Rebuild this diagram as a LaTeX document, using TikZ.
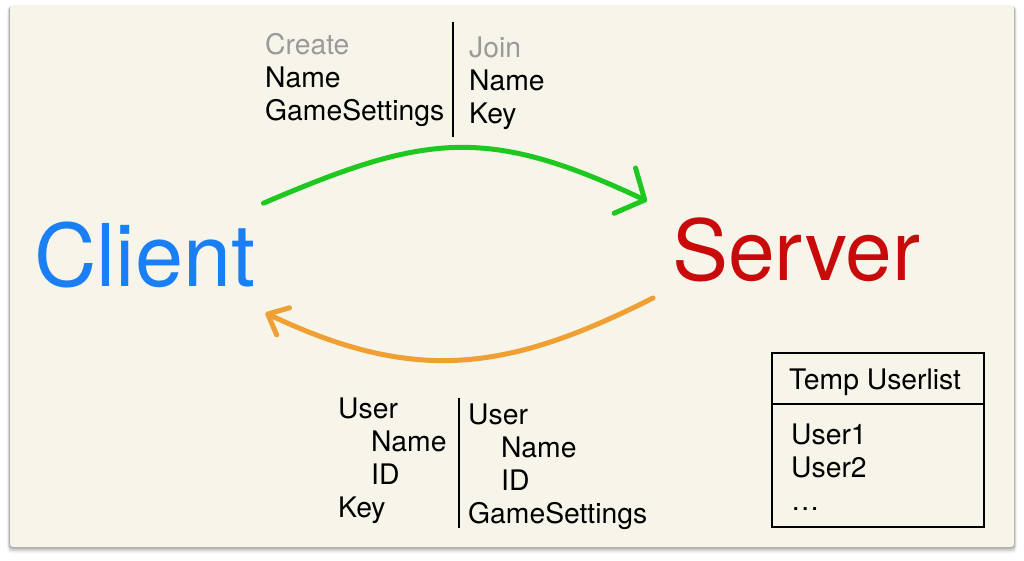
\documentclass[tikz,border=0pt]{standalone}
\usepackage{fontspec}
\setmainfont{TeX Gyre Heros}
\usepackage{tikz}
\usetikzlibrary{arrows.meta,positioning,calc}
\definecolor{slidebg}{HTML}{F7F4E9}
\definecolor{clientblue}{HTML}{1A7FF5}
\definecolor{serverred}{HTML}{C80A0A}
\definecolor{reqgreen}{HTML}{1EC81E}
\definecolor{resorange}{HTML}{F0A032}
\definecolor{hintgray}{HTML}{9A9A9A}

\begin{document}
\begin{tikzpicture}[x=1pt, y=-1pt,
  big/.style={inner sep=0pt, anchor=base west,
              font=\fontsize{84}{90}\selectfont},
  txt/.style={inner sep=0pt, anchor=base west, align=left,
              font=\fontsize{28.3}{33}\selectfont},
  arr/.style={line width=5pt, line cap=round},
  divider/.style={line width=2pt},
  hint/.style={text=hintgray}]
\useasboundingbox (0,0) rectangle (1024,560);
\fill[white] (0,0) rectangle (1024,560);
% slide with soft shadow
\foreach \s/\o in {1/0.14, 2/0.10, 3/0.07, 4/0.05, 5/0.03}
  \fill[black, opacity=\o, rounded corners=4pt]
    (10-\s*0.6, 5+\s*0.3) rectangle (1014+\s*0.6, 547+\s*1.3);
\fill[slidebg, rounded corners=3pt] (10,5) rectangle (1014,547);

\node[big, text=clientblue, font=\fontsize{86.5}{90}\selectfont]
  (client) at (34,286) {Client};
\node[big, text=serverred] (server) at (672,280) {Server};

% request (top), anchored at the last line
\node[txt] (create) at (265,120) {\textcolor{hintgray}{Create}\\Name\\GameSettings};
\node[txt] (join) at (469,123) {\textcolor{hintgray}{Join}\\Name\\Key};
\draw[divider] (453,22) -- (453,137);

% response (bottom)
\node[txt] (created) at (338,517)
  {User\\\hspace*{33pt}Name\\\hspace*{33pt}ID\\Key};
\node[txt] (joined) at (468,523)
  {User\\\hspace*{33pt}Name\\\hspace*{33pt}ID\\GameSettings};
\draw[divider] (459,398) -- (459,528);

% temp userlist
\node[draw, line width=1.8pt, inner sep=0pt, anchor=north west,
      minimum width=212pt, minimum height=174pt] (ulist) at (771,352) {};
\draw[line width=1.8pt] ([yshift=-52pt]ulist.north west)
  -- ([yshift=-52pt]ulist.north east);
\node[txt] (ulhead) at (789,389) {Temp Userlist};
\node[txt] (ulitems) at (791,510) {User1\\User2\\\dots};

\draw[arr, reqgreen, -{Straight Barb[length=22pt,width=50pt,round]}]
  ([shift={(8,-18)}]client.north east)
  .. controls +(161,-69) and +(-161,-76) ..
  ([shift={(-25,-16)}]server.north west);
\draw[arr, resorange, -{Straight Barb[length=17pt,width=30pt,round]}]
  ([shift={(-19,18)}]server.base west)
  .. controls +(-148,75) and +(148,70) ..
  ([shift={(10,27)}]client.base east);
\end{tikzpicture}
\end{document}
